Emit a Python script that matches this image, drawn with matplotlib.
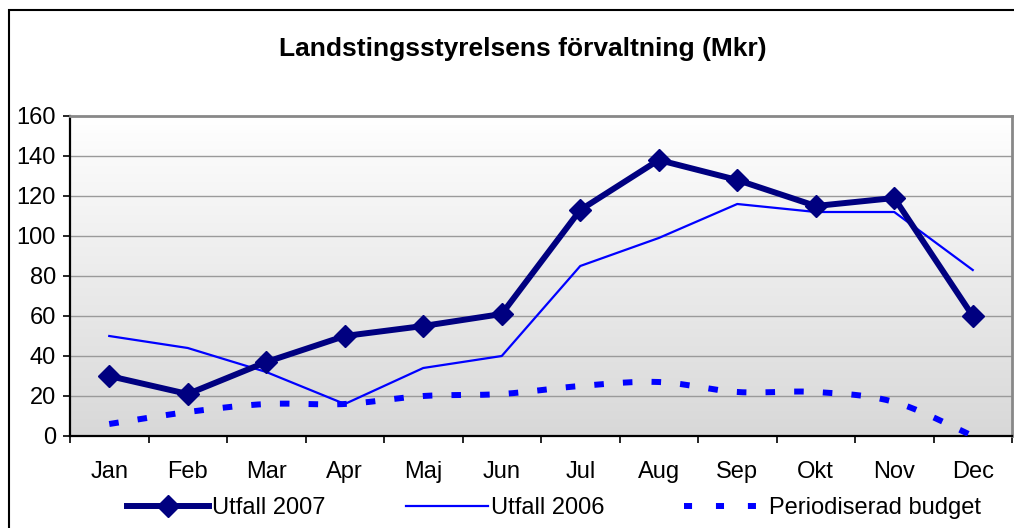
import numpy as np
import matplotlib
matplotlib.use("Agg")
import matplotlib.pyplot as plt
from matplotlib.patches import Rectangle
from matplotlib.lines import Line2D

plt.rcParams['font.family'] = ['Liberation Sans', 'DejaVu Sans']

months = ["Jan", "Feb", "Mar", "Apr", "Maj", "Jun", "Jul", "Aug", "Sep", "Okt", "Nov", "Dec"]
utfall_2007 = [30, 21, 37, 50, 55, 61, 113, 138, 128, 115, 119, 60]
utfall_2006 = [50, 44, 32, 16, 34, 40, 85, 99, 116, 112, 112, 83]
budget = [6, 12, 16, 16, 20, 21, 25, 27, 22, 22, 17, 0]
yticks = [0, 20, 40, 60, 80, 100, 120, 140, 160]
title = "Landstingsstyrelsens förvaltning (Mkr)"


def smooth(xs, ys, n=30):
    """Catmull-Rom style Bezier smoothing (like Excel's smoothed line)."""
    P = np.column_stack([xs, ys]).astype(float)
    out = []
    m = len(P)
    for i in range(m - 1):
        p0 = P[i - 1] if i > 0 else P[i]
        p1 = P[i]
        p2 = P[i + 1]
        p3 = P[i + 2] if i + 2 < m else P[i + 1]
        c1 = p1 + (p2 - p0) / 6.0
        c2 = p2 - (p3 - p1) / 6.0
        t = np.linspace(0, 1, n)[:, None]
        seg = ((1 - t) ** 3) * p1 + 3 * ((1 - t) ** 2) * t * c1 + 3 * (1 - t) * t ** 2 * c2 + t ** 3 * p2
        out.append(seg if i == 0 else seg[1:])
    arr = np.vstack(out)
    return arr[:, 0], arr[:, 1]


W, H = 1014, 528
fig = plt.figure(figsize=(W / 100, H / 100), dpi=100)
fig.patch.set_facecolor("white")

# outer chart border
fig.patches.append(Rectangle((9 / W, -0.1), 1.2, 1 - 10 / H + 0.1, transform=fig.transFigure,
                             fill=False, edgecolor="black", linewidth=1.5, zorder=0))

ax = fig.add_axes([70 / W, 1 - 436 / H, (1012 - 70) / W, (436 - 116) / H])
x = np.arange(len(months))

# gradient background
grad = np.linspace(1, 0, 256)[:, None]
cmap = matplotlib.colors.LinearSegmentedColormap.from_list("g", ["#d8d8d8", "#ffffff"])
ax.imshow(grad, aspect="auto", cmap=cmap, extent=(-0.5, len(months) - 0.5, 0, 160),
          origin="upper", zorder=0, vmin=0, vmax=1)
ax.set_xlim(-0.5, len(months) - 0.5)
ax.set_ylim(0, 160)

for yv in yticks[1:-1]:
    ax.axhline(yv, color="#9a9a9a", linewidth=1.0, zorder=1)

# series
bx, by = smooth(x, budget)
ax.plot(bx, by, color="#0000ff", linewidth=4.3, linestyle=(0, (1.6, 3.2)),
        dash_capstyle="butt", zorder=3)
ax.plot(x, utfall_2006, color="#0000ff", linewidth=1.6, zorder=4)
ax.plot(x, utfall_2007, color="#000080", linewidth=4.3, marker="D", markersize=11,
        markerfacecolor="#000080", markeredgecolor="#000080", zorder=5)

# spines
for s in ["left", "bottom"]:
    ax.spines[s].set_color("black")
    ax.spines[s].set_linewidth(1.6)
for s in ["top", "right"]:
    ax.spines[s].set_color("#888888")
    ax.spines[s].set_linewidth(2.0)

ax.set_yticks(yticks)
ax.set_yticklabels([str(v) for v in yticks])
ax.tick_params(axis="y", direction="out", length=5, width=1.2, pad=5, labelsize=17)

ax.set_xticks(np.arange(len(months) + 1) - 0.5)
ax.set_xticklabels([])
ax.set_xticks(x, minor=True)
ax.set_xticklabels(months, minor=True)
ax.tick_params(axis="x", which="major", direction="out", length=5, width=1.2)
ax.tick_params(axis="x", which="minor", length=0, pad=18, labelsize=17)

fig.text(523 / W, 1 - 49 / H, title, ha="center", va="center", fontsize=19, fontweight="bold")

handles = [
    Line2D([], [], color="#000080", linewidth=4.3, marker="D", markersize=11),
    Line2D([], [], color="#0000ff", linewidth=1.6),
    Line2D([], [], color="#0000ff", linewidth=4.3, linestyle=(0, (1.35, 4.0)), dash_capstyle="butt"),
]
labels = ["Utfall 2007", "Utfall 2006", "Periodiserad budget"]
fig.legend(handles, labels, loc="center", bbox_to_anchor=(554 / W, 1 - 508 / H), ncol=3,
           frameon=False, fontsize=17, handlelength=3.5, handletextpad=0.1,
           columnspacing=3.4, numpoints=1, borderpad=0)

fig.savefig("out.png", dpi=100)
